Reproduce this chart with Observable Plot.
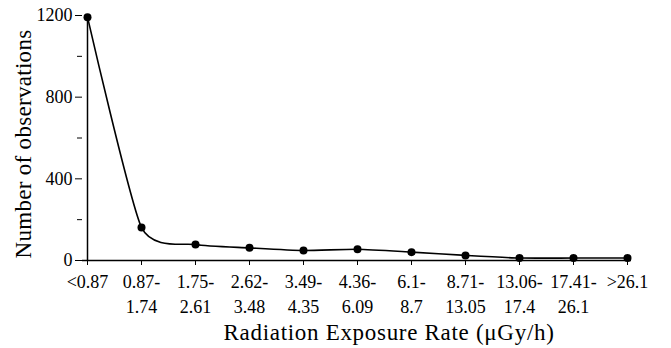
<!DOCTYPE html>
<html>
<head>
<meta charset="utf-8">
<script src="https://cdn.jsdelivr.net/npm/d3@7"></script>
<script src="https://cdn.jsdelivr.net/npm/@observablehq/plot@0.6"></script>
<style>
  html, body { margin: 0; padding: 0; background: #fff; }
  svg { font-family: "Liberation Serif", "DejaVu Serif", serif; }
  .xtitle text { letter-spacing: 0.7px; }
  .ytitle text { letter-spacing: 0.3px; }
</style>
</head>
<body>
<div id="chart"></div>
<script>
const categories = ["<0.87", "0.87-1.74", "1.75-2.61", "2.62-3.48", "3.49-4.35", "4.36-6.09", "6.1-8.7", "8.71-13.05", "13.06-17.4", "17.41-26.1", ">26.1"];
const tickLabels = ["<0.87", "0.87-\n1.74", "1.75-\n2.61", "2.62-\n3.48", "3.49-\n4.35", "4.36-\n6.09", "6.1-\n8.7", "8.71-\n13.05", "13.06-\n17.4", "17.41-\n26.1", ">26.1"];
const observations = [1192, 162, 78, 62, 49, 55, 41, 25, 12, 12, 12];
const yMajorTicks = [0, 400, 800, 1200];
const yMinorTicks = [200, 600, 1000];
const xTitle = "Radiation Exposure Rate (\u03bcGy/h)";
const yTitle = "Number of observations";

const data = categories.map((c, i) => ({cat: c, value: observations[i]}));
const labelOf = new Map(categories.map((c, i) => [c, tickLabels[i]]));

const chart = Plot.plot({
  width: 671,
  height: 348,
  marginLeft: 82,
  marginRight: 40,
  marginTop: 15,
  marginBottom: 88,
  style: {fontFamily: '"Liberation Serif", serif', color: "#000", background: "#fff"},
  x: {type: "point", domain: categories, padding: 0, label: null},
  y: {domain: [0, 1200], label: null},
  marks: [
    Plot.axisX({
      tickSize: 5,
      tickPadding: 5,
      fontSize: 18,
      lineHeight: 1.38,
      textAnchor: "middle",
      tickFormat: d => labelOf.get(d),
      label: null
    }),
    Plot.axisY({
      ticks: yMajorTicks,
      tickSize: 7,
      tickPadding: 3,
      fontSize: 18,
      tickFormat: d => String(d),
      label: null
    }),
    Plot.axisY({
      ticks: yMinorTicks,
      tickSize: 5,
      tickFormat: () => "",
      label: null
    }),
    Plot.ruleY([0], {stroke: "#000", strokeWidth: 1.5}),
    Plot.ruleX([categories[0]], {y1: 0, y2: 1200, stroke: "#000", strokeWidth: 1.5}),
    Plot.line(data, {x: "cat", y: "value", curve: "cardinal", tension: 0.4, stroke: "#000", strokeWidth: 1.6}),
    Plot.dot(data, {x: "cat", y: "value", r: 4, fill: "#000", stroke: "none"}),
    Plot.text([xTitle], {className: "xtitle", frameAnchor: "bottom", dx: 32, dy: 72, fontSize: 23, lineAnchor: "middle", fill: "#000"}),
    Plot.text([yTitle], {className: "ytitle", frameAnchor: "left", dx: -59, dy: 6, rotate: -90, textAnchor: "middle", fontSize: 23, fill: "#000"})
  ]
});
document.getElementById("chart").appendChild(chart);
</script>
</body>
</html>
